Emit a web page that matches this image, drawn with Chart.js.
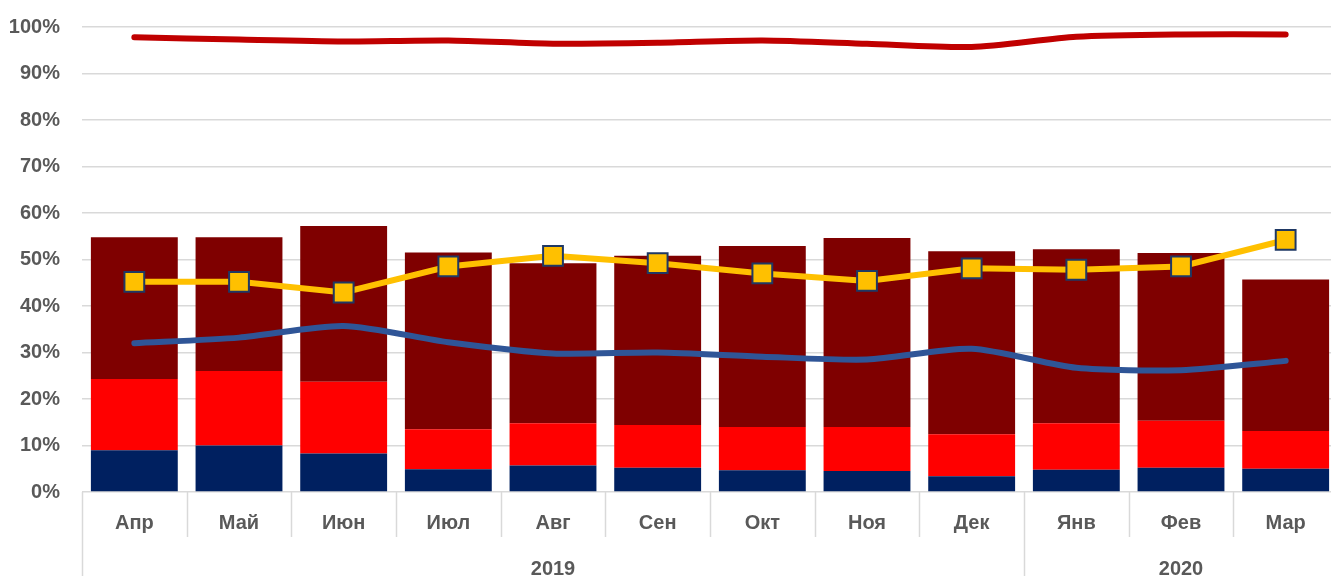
<!DOCTYPE html>
<html>
<head>
<meta charset="utf-8">
<script src="https://cdn.jsdelivr.net/npm/chart.js@4/dist/chart.umd.min.js"></script>
<style>
    html, body { margin: 0; padding: 0; background: #fff; overflow: hidden; }
    #wrap { width: 1331px; height: 576px; overflow: hidden; }
</style>
</head>
<body>
<div id="wrap"><canvas id="myChart" width="1338" height="576"></canvas></div>
<script>
// Mois et années
const months = ['Апр', 'Май', 'Июн', 'Июл', 'Авг', 'Сен', 'Окт', 'Ноя', 'Дек', 'Янв', 'Фев', 'Мар'];
const yearLabels = ['2019', '2020'];
const yearSpans = [9, 3]; // nombre de mois par année

// Barres empilées (en %)
const navyPart = [9.0, 10.0, 8.3, 4.9, 5.7, 5.2, 4.7, 4.5, 3.4, 4.8, 5.2, 5.0];
const redPart = [15.3, 16.0, 15.4, 8.6, 9.1, 9.2, 9.3, 9.5, 9.0, 10.0, 10.1, 8.1];
const darkRedPart = [30.5, 28.8, 33.5, 38.0, 34.4, 36.4, 38.9, 40.6, 39.4, 37.4, 36.1, 32.6];

// Courbes (en %)
const topLine = [97.8, 97.3, 96.9, 97.1, 96.4, 96.6, 97.1, 96.4, 95.7, 97.9, 98.4, 98.4];
const yellowLine = [45.2, 45.2, 42.9, 48.5, 50.8, 49.2, 47.0, 45.4, 48.1, 47.8, 48.5, 54.2];
const blueLine = [32.0, 33.2, 35.7, 32.2, 29.8, 30.0, 29.1, 28.5, 30.8, 26.7, 26.2, 28.2];

const fontFamily = "'Liberation Sans', Arial, sans-serif";
const fontSize = 20;
const textColor = '#595959';
const sepColor = '#d9d9d9';

// Séparateurs et années sous l'axe X
const groupAxis = {
    id: 'groupAxis',
    afterDraw(chart) {
        const ctx = chart.ctx;
        const x = chart.scales.x;
        const bottom = chart.chartArea.bottom;
        const n = months.length;
        const step = x.getPixelForValue(1) - x.getPixelForValue(0);
        const edge = i => x.getPixelForValue(0) - step / 2 + i * step;

        // bornes des années
        const yearEdges = [0];
        yearSpans.forEach(s => yearEdges.push(yearEdges[yearEdges.length - 1] + s));

        ctx.save();
        ctx.strokeStyle = sepColor;
        ctx.lineWidth = 1.5;
        for (let i = 0; i <= n; i++) {
            const px = Math.round(edge(i)) + 0.5;
            const isYear = yearEdges.includes(i);
            ctx.beginPath();
            ctx.moveTo(px, bottom);
            ctx.lineTo(px, isYear ? chart.height : bottom + 45);
            ctx.stroke();
        }

        ctx.fillStyle = textColor;
        ctx.font = 'bold ' + fontSize + 'px ' + fontFamily;
        ctx.textAlign = 'center';
        ctx.textBaseline = 'alphabetic';
        yearLabels.forEach((lab, k) => {
            const cx = (edge(yearEdges[k]) + edge(yearEdges[k + 1])) / 2;
            ctx.fillText(lab, cx, 575);
        });
        ctx.restore();
    }
};

const ctx = document.getElementById('myChart').getContext('2d');
const myChart = new Chart(ctx, {
    data: {
        labels: months,
        datasets: [
            {
                type: 'line',
                data: topLine,
                borderColor: '#C00000',
                borderWidth: 6,
                pointRadius: 0,
                tension: 0.25,
                borderCapStyle: 'round',
                stack: 'l1',
                order: 0
            },
            {
                type: 'line',
                data: yellowLine,
                borderColor: '#FFC000',
                borderWidth: 6,
                pointStyle: 'rect',
                pointRadius: 14,
                pointBackgroundColor: '#FFC000',
                pointBorderColor: '#1F3864',
                pointBorderWidth: 2,
                tension: 0,
                stack: 'l2',
                order: 0
            },
            {
                type: 'line',
                data: blueLine,
                borderColor: '#2F5597',
                borderWidth: 6,
                pointRadius: 0,
                tension: 0.25,
                borderCapStyle: 'round',
                stack: 'l3',
                order: 1
            },
            {
                type: 'bar',
                data: navyPart,
                backgroundColor: '#002060',
                stack: 'bars',
                order: 2
            },
            {
                type: 'bar',
                data: redPart,
                backgroundColor: '#FF0000',
                stack: 'bars',
                order: 2
            },
            {
                type: 'bar',
                data: darkRedPart,
                backgroundColor: '#7F0000',
                stack: 'bars',
                order: 2
            }
        ]
    },
    options: {
        responsive: false,
        animation: false,
        layout: { autoPadding: false, padding: { top: 27, right: 0, left: 0, bottom: 0 } },
        datasets: {
            bar: { barPercentage: 1, categoryPercentage: 0.83 }
        },
        plugins: {
            legend: { display: false },
            tooltip: { enabled: false }
        },
        scales: {
            x: {
                stacked: true,
                offset: true,
                grid: { display: false },
                border: { display: false },
                ticks: {
                    color: textColor,
                    font: { family: fontFamily, size: fontSize, weight: 'bold' },
                    padding: 11,
                    maxRotation: 0
                },
                afterFit: scale => { scale.height = 84; }
            },
            y: {
                stacked: true,
                min: 0,
                max: 100,
                grid: { color: sepColor, lineWidth: 1.5, drawTicks: false },
                border: { display: false },
                ticks: {
                    stepSize: 10,
                    color: textColor,
                    font: { family: fontFamily, size: fontSize, weight: 'bold' },
                    padding: 22,
                    callback: v => v + '%'
                },
                afterFit: scale => {
                    scale.width = 82;
                    scale.paddingTop = 0;
                    scale.paddingBottom = 0;
                }
            }
        }
    },
    plugins: [groupAxis]
});
</script>
</body>
</html>
